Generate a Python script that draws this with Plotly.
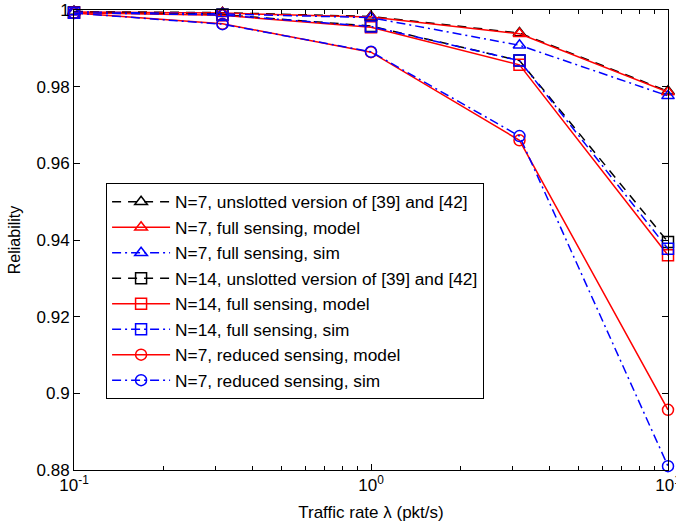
import plotly.graph_objects as go

# Traffic rates (pkt/s)
rate = [0.1, 0.3162, 1.0, 3.162, 10.0]

# Reliability curves
n7_unslotted = [0.9996, 0.9993, 0.9983, 0.9940, 0.9788]
n7_full_model = [0.9995, 0.9992, 0.9982, 0.9938, 0.9786]
n7_full_sim = [0.9995, 0.9990, 0.9980, 0.9908, 0.9776]
n14_unslotted = [0.9994, 0.9988, 0.9958, 0.9868, 0.9395]
n14_full_model = [0.9993, 0.9986, 0.9955, 0.9857, 0.9360]
n14_full_sim = [0.9993, 0.9987, 0.9957, 0.9868, 0.9377]
n7_red_model = [0.9992, 0.9964, 0.9890, 0.9660, 0.8957]
n7_red_sim = [0.9992, 0.9963, 0.9891, 0.9671, 0.8810]

names = [
    "N=7, unslotted version of [39] and [42]",
    "N=7, full sensing, model",
    "N=7, full sensing, sim",
    "N=14, unslotted version of [39] and [42]",
    "N=14, full sensing, model",
    "N=14, full sensing, sim",
    "N=7, reduced sensing, model",
    "N=7, reduced sensing, sim",
]

RED = "#ff0000"
BLUE = "#0000ff"
BLACK = "#000000"
DASHDOT = "9px,4px,2px,4px"
DASH = "9px,7px"

series = [
    (n7_unslotted, BLACK, DASH, "triangle-up-open"),
    (n7_full_model, RED, "solid", "triangle-up-open"),
    (n7_full_sim, BLUE, DASHDOT, "triangle-up-open"),
    (n14_unslotted, BLACK, DASH, "square-open"),
    (n14_full_model, RED, "solid", "square-open"),
    (n14_full_sim, BLUE, DASHDOT, "square-open"),
    (n7_red_model, RED, "solid", "circle-open"),
    (n7_red_sim, BLUE, DASHDOT, "circle-open"),
]

fig = go.Figure()
for i, (vals, col, dash, sym) in enumerate(series):
    fig.add_trace(go.Scatter(
        x=rate, y=vals, name=names[i], mode="lines+markers",
        legendgroup=f"g{i}",
        line=dict(color=col, width=1.5, dash=dash),
        marker=dict(symbol=sym, size=11, color=col, line=dict(width=1.5, color=col)),
        cliponaxis=False,
    ))

minor_x = [m * 10 ** e for e in (-1, 0) for m in range(2, 10)]

fig.update_layout(
    width=676, height=529,
    margin=dict(l=74, r=8, t=10, b=59, autoexpand=False),
    paper_bgcolor="white", plot_bgcolor="white",
    font=dict(family="Liberation Sans, Arial, sans-serif", color="black"),
    legend=dict(
        x=0.054, y=0.624, xanchor="left", yanchor="top",
        bgcolor="white", bordercolor="black", borderwidth=1,
        font=dict(size=17.3), itemwidth=58,
        traceorder="grouped", tracegroupgap=0,
    ),
    xaxis=dict(
        type="log", range=[-1, 1], automargin=False,
        tickvals=[0.1, 1, 10], ticktext=["10<sup>-1</sup>", "10<sup>0</sup>", "10<sup>1</sup>"],
        ticks="inside", ticklen=6, tickcolor="black", tickfont=dict(size=17),
        ticklabeloverflow="allow",
        minor=dict(tickvals=minor_x, ticks="inside", ticklen=4, tickcolor="black"),
        showline=True, linecolor="black", linewidth=1, mirror="ticks",
        showgrid=False, zeroline=False,
        title=dict(text="Traffic rate λ (pkt/s)", font=dict(size=17), standoff=11),
    ),
    yaxis=dict(
        range=[0.88, 1.0], automargin=False,
        tickvals=[0.88, 0.9, 0.92, 0.94, 0.96, 0.98, 1.0],
        ticktext=["0.88", "0.9", "0.92", "0.94", "0.96", "0.98", "1"],
        ticks="inside", ticklen=6, tickcolor="black", tickfont=dict(size=17),
        showline=True, linecolor="black", linewidth=1, mirror="ticks",
        showgrid=False, zeroline=False,
        title=dict(text="Reliability", font=dict(size=16), standoff=11),
    ),
)

fig.write_html("out.html")
